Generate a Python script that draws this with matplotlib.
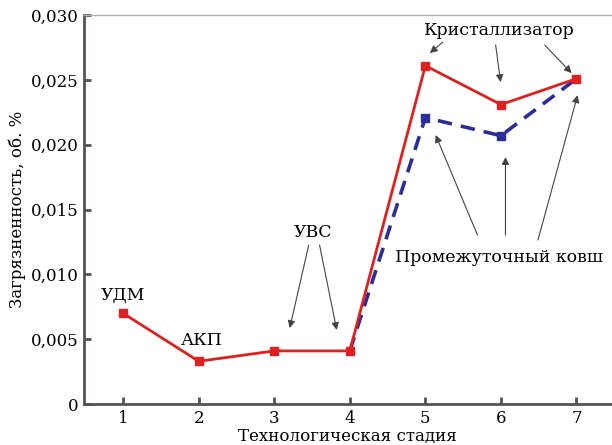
import numpy as np
import matplotlib.pyplot as plt
from matplotlib.ticker import FixedLocator, FixedFormatter

plt.rcParams['font.family'] = ['DejaVu Serif']

stages = [1, 2, 3, 4, 5, 6, 7]
crystallizer = [0.0070, 0.0033, 0.0041, 0.0041, 0.0261, 0.0231, 0.0251]
tundish_stages = [4, 5, 6, 7]
tundish = [0.0041, 0.0221, 0.0207, 0.0251]

yticks = [0, 0.005, 0.010, 0.015, 0.020, 0.025, 0.030]
ytick_labels = ['0', '0,005', '0,010', '0,015', '0,020', '0,025', '0,030']

red = '#e0201f'
blue = '#2b2e9a'
spine = '#5a5252'

fig = plt.figure(figsize=(6.12, 4.45), dpi=100)
ax = fig.add_axes([0.137, 0.092, 0.863, 0.874])

ax.plot(tundish_stages, tundish, color=blue, lw=2.6, ls=(0, (4, 2.5)),
        marker='s', ms=6, markevery=[1, 2], zorder=2)
ax.plot(stages, crystallizer, color=red, lw=2.0, marker='s', ms=6, zorder=3)

ax.set_xlim(0.48, 7.47)
ax.set_ylim(0, 0.030)
ax.set_xticks(stages)
ax.yaxis.set_major_locator(FixedLocator(yticks))
ax.yaxis.set_major_formatter(FixedFormatter(ytick_labels))
ax.tick_params(direction='in', length=5, width=2, color=spine,
               labelsize=12, pad=4)

ax.spines['right'].set_visible(False)
ax.spines['top'].set_color('#b0b0b0')
ax.spines['top'].set_linewidth(1.0)
for s in ('left', 'bottom'):
    ax.spines[s].set_color(spine)
    ax.spines[s].set_linewidth(2.0)

ax.set_xlabel('Технологическая стадия', fontsize=12, labelpad=1)
ax.set_ylabel('Загрязненность, об. %', fontsize=12, labelpad=3)

fs = 12.5
ax.text(1.0, 0.0084, 'УДМ', ha='center', va='center', fontsize=fs)
ax.text(2.04, 0.00494, 'АКП', ha='center', va='center', fontsize=fs)
ax.text(3.51, 0.01327, 'УВС', ha='center', va='center', fontsize=fs)
ax.text(5.98, 0.02884, 'Кристаллизатор', ha='center', va='center', fontsize=fs)
ax.text(5.98, 0.01134, 'Промежуточный ковш', ha='center', va='center', fontsize=fs)

arrow = dict(arrowstyle='-|>', color='#444444', lw=0.8, mutation_scale=11,
             shrinkA=0, shrinkB=0)
pointers = [
    ((3.456, 0.01226), (3.205, 0.00586)),
    ((3.60, 0.01226), (3.827, 0.00571)),
    ((5.23, 0.02792), (5.06, 0.02707)),
    ((5.93, 0.02769), (5.996, 0.02483)),
    ((6.58, 0.02769), (6.935, 0.02553)),
    ((5.69, 0.01303), (5.136, 0.02075)),
    ((6.06, 0.01303), (6.06, 0.01905)),
    ((6.49, 0.01265), (7.015, 0.02383)),
]
for start, end in pointers:
    ax.annotate('', xy=end, xytext=start, arrowprops=arrow)

fig.savefig('out.png', dpi=100)
